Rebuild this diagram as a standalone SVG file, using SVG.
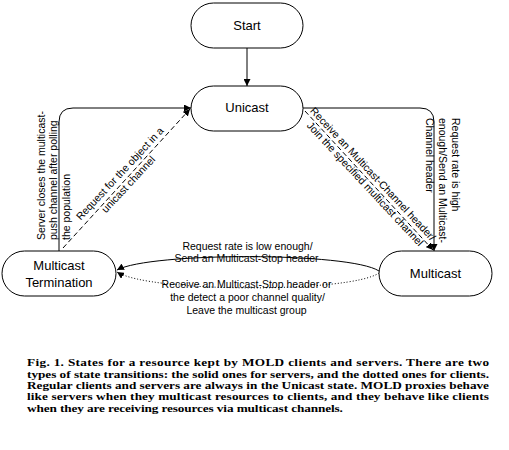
<svg xmlns="http://www.w3.org/2000/svg" width="509" height="450" viewBox="0 0 509 450">
<style>
.node{fill:#fff;stroke:#000;stroke-width:1}
.nt{font-family:"Liberation Sans",Arial,sans-serif;font-size:13px;fill:#000;text-anchor:middle}
.lb{font-family:"Liberation Sans",Arial,sans-serif;font-size:10.5px;fill:#000}
.c{text-anchor:middle}
.ln{fill:none;stroke:#000;stroke-width:1}
.dash{stroke-dasharray:5,3}
.dot{stroke-dasharray:1,2}
.cap{font-family:"Liberation Serif","Times New Roman",serif;font-size:10.2px;font-weight:bold;fill:#000}
</style>
<defs>
<marker id="arr" viewBox="0 0 10 10" refX="10" refY="5" markerWidth="7" markerHeight="7" markerUnits="userSpaceOnUse" orient="auto">
<path d="M0,0 L10,5 L0,10 z" fill="#000"/>
</marker>
</defs>
<rect width="509" height="450" fill="#fff"/>
<g id="connectors">
<path class="ln" d="M247,48 L247,86" marker-end="url(#arr)"/>
<path class="ln" d="M59,251 L59,122 Q59,108 73,108 L191,108" marker-end="url(#arr)"/>
<path class="ln dash" d="M63,248 L190,109" marker-end="url(#arr)"/>
<path class="ln" d="M303,108 L420,108 Q434,108 434,122 L434,251" marker-end="url(#arr)"/>
<path class="ln dash" d="M305,111 L433,250" marker-end="url(#arr)"/>
<path class="ln" d="M379,271 C350,252 150,252 117,270" marker-end="url(#arr)"/>
<path class="ln dot" d="M379,273 C350,293 150,293 117,272" marker-end="url(#arr)"/>
<g id="labels">
<text class="lb" transform="translate(45,240) rotate(-90)">Server closes the multicast-</text>
<text class="lb" transform="translate(57,240) rotate(-90)">push channel after polling</text>
<text class="lb" transform="translate(69.5,240) rotate(-90)">the population</text>
<text class="lb" transform="translate(451.5,118) rotate(90)">Request rate is high</text>
<text class="lb" transform="translate(438.5,118) rotate(90)">enough/Send an Multicast-</text>
<text class="lb" transform="translate(425.5,118) rotate(90)">Channel header</text>
<g transform="translate(125,177) rotate(-47)">
<text class="lb c" x="-1" y="-2.5">Request for the object in a</text>
<text class="lb c" x="-3" y="11">unicast channel</text>
</g>
<g transform="translate(369.5,178.5) rotate(47)">
<text class="lb c" x="-1" y="-2">Receive an Multicast-Channel header/</text>
<text class="lb c" x="1" y="10.5">Join the specified multicast channel</text>
</g>
<text class="lb c" x="247.5" y="250">Request rate is low enough/</text>
<text class="lb c" x="246.5" y="262">Send an Multicast-Stop header</text>
<text class="lb c" x="246.5" y="288">Receive an Multicast-Stop header or</text>
<text class="lb c" x="247.5" y="301">the detect a poor channel quality/</text>
<text class="lb c" x="246.5" y="314">Leave the multicast group</text>
</g>
</g>
<g id="start">
<rect class="node" x="191" y="3" width="112" height="45" rx="22.5"/>
<text class="nt" x="247" y="30">Start</text>
</g>
<g id="unicast">
<rect class="node" x="191" y="86" width="112" height="45" rx="22.5"/>
<text class="nt" x="247" y="112">Unicast</text>
</g>
<g id="multicast-termination">
<rect class="node" x="2" y="251" width="114" height="45" rx="22.5"/>
<text class="nt" x="59" y="270">Multicast</text>
<text class="nt" x="59" y="287">Termination</text>
</g>
<g id="multicast">
<rect class="node" x="379" y="251" width="113" height="45" rx="22.5"/>
<text class="nt" x="435.5" y="278">Multicast</text>
</g>
<g id="caption" transform="scale(1.3,1)">
<text class="cap" x="20.77" y="366.5" textLength="355.4" lengthAdjust="spacing">Fig. 1. States for a resource kept by MOLD clients and servers. There are two</text>
<text class="cap" x="20.77" y="377.8" textLength="355.4" lengthAdjust="spacing">types of state transitions: the solid ones for servers, and the dotted ones for clients.</text>
<text class="cap" x="20.77" y="389.1" textLength="355.4" lengthAdjust="spacing">Regular clients and servers are always in the Unicast state. MOLD proxies behave</text>
<text class="cap" x="20.77" y="400.4" textLength="355.4" lengthAdjust="spacing">like servers when they multicast resources to clients, and they behave like clients</text>
<text class="cap" x="20.77" y="411.7" textLength="243" lengthAdjust="spacing">when they are receiving resources via multicast channels.</text>
</g>
</svg>
